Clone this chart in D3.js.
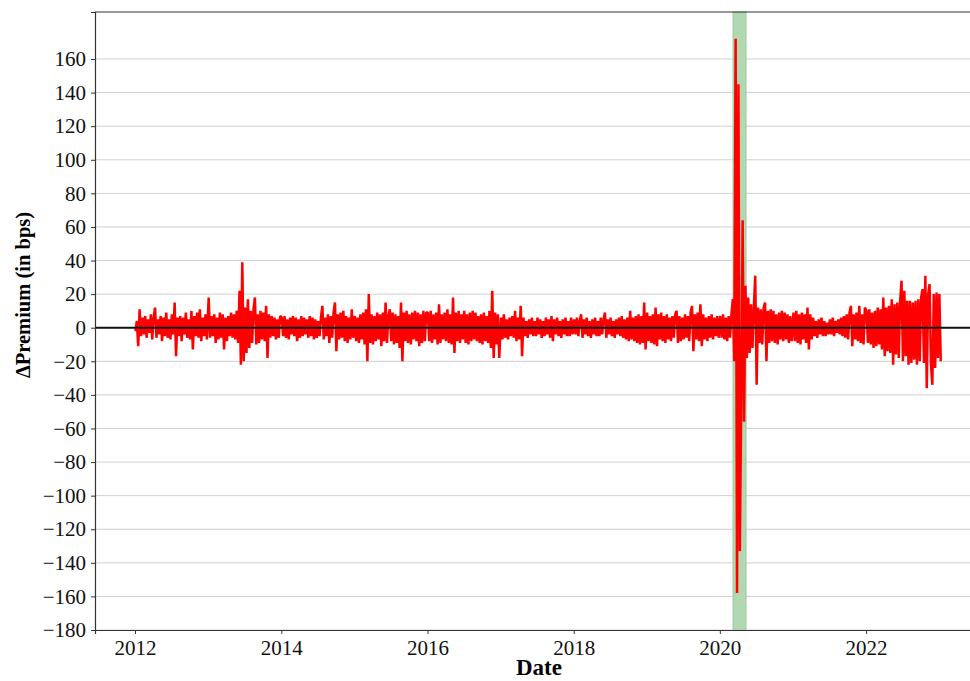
<!DOCTYPE html>
<html>
<head>
<meta charset="utf-8">
<script src="https://cdn.jsdelivr.net/npm/d3@7"></script>
<style>
  html, body { margin: 0; padding: 0; background: #fff; }
  svg { display: block; }
</style>
</head>
<body>
<div id="chart"></div>
<script>
// weekly samples of the premium change (bps), one array per year
const v2012 = [-2, 4, -11, 11, -5, 6, -4, 7, -6, 5, -3, 8, -7, 6, 12, -6, 5, -4, 7, -8, 6, -5, 9, -6, 5, -7, 8, -4, 15, -17, 6, -5, 7, -8, 6, -4, 9, -6, 5, -7, 10, -13, 7, -5, 9, -6, 11, -8, 6, -5, 8, -7];
const v2013 = [18, -6, 7, -5, 8, -9, 6, -7, 9, -6, 8, -13, 6, -8, 7, -5, 9, -6, 8, -7, 10, -9, 22, -22, 39, -20, 12, -15, 17, -12, 10, -9, 11, 18, -10, 8, -9, 10, -7, 9, -8, 13, -18, 8, -6, 7, -5, 6, -7, 5, -6, 7];
const v2014 = [6, -5, 7, -6, 5, -7, 6, -4, 7, -5, 6, -8, 5, -6, 7, -5, 6, -4, 5, -6, 7, -5, 6, -7, 5, -6, 4, -5, 6, 13, -7, 6, -5, 8, -9, 7, -6, 9, 15, -14, 8, -7, 9, -6, 10, -8, 7, -9, 6, -7, 11, -6];
const v2015 = [7, -8, 6, -9, 8, -7, 9, -10, 11, -20, 20, -9, 8, -10, 7, -8, 9, -7, 8, -11, 9, -8, 15, -9, 7, 11, -8, 9, -10, 8, -9, 7, -12, 15, -20, 9, -8, 10, -9, 8, -10, 9, -7, 10, -8, 9, -11, 8, -9, 10, -8, 9];
const v2016 = [9, -8, 10, -9, 8, -7, 9, -10, 14, -9, 8, -7, 9, -8, 11, -9, 8, -10, 18, -15, 9, -8, 10, -9, 8, -7, 10, -9, 8, -10, 9, -8, 10, -7, 9, -8, 7, -9, 8, -10, 9, -8, 7, -9, 10, -12, 22, -18, 9, -10, 8, -18];
const v2017 = [6, -7, 8, -6, 5, -7, 6, -5, 7, -6, 10, -8, 6, -7, 13, -17, 6, -5, 4, -6, 5, -4, 6, -5, 4, -5, 6, -4, 5, -6, 4, -5, 6, -4, 5, -6, 7, -8, 5, -4, 6, -5, 4, -6, 5, -4, 6, -5, 4, -5, 6, -4];
const v2018 = [5, -4, 6, -5, 4, 8, -6, 5, -4, 6, -5, 4, -6, 5, -4, 6, -5, 4, -5, 6, -4, 5, 9, -6, 5, -4, 6, -5, 4, -6, 5, -4, 6, -5, 7, -6, 5, -7, 6, -8, 10, -7, 6, -8, 7, -9, 8, -10, 7, -9, 15, -13];
const v2019 = [9, -8, 7, -9, 8, -10, 12, -11, 8, -7, 9, -8, 7, -9, 8, -7, 6, -8, 7, -6, 8, 10, -9, 7, -8, 6, -7, 8, -6, 7, -8, 9, 13, -14, 8, -7, 9, -8, 14, -11, 8, -7, 6, -8, 7, -6, 8, -7, 6, -5, 7, -6];
const v2020 = [7, -6, 8, -7, 6, -8, 7, -6, 8, 17, -20, 172, -158, 145, -133, -43, 64, -56, 25, -18, 18, -15, 14, -12, 12, 31, -34, 12, -9, 11, -10, 12, 15, -20, 10, -9, 11, -8, 10, -9, 8, -10, 9, -7, 10, -8, 9, -7, 8, -9, 7, -8];
const v2021 = [9, -8, 10, -9, 8, -10, 9, -7, 8, -9, 12, -13, 8, -7, 6, -5, 4, -6, 5, -4, 6, -5, 4, -5, 3, -4, 5, -4, 6, -5, 4, -3, 5, -4, 6, -5, 7, -6, 8, -7, 9, 13, -11, 8, -7, 9, -8, 13, -9, 8, -10, 12];
const v2022 = [10, -9, 11, -10, 9, -12, 10, -11, 12, -10, 11, -13, 18, -17, 12, -14, 13, -15, 17, -22, 14, -16, 15, -18, 16, 28, -20, 22, -17, 16, -22, 16, -21, 15, -19, 16, -22, 17, -20, 18, 23, -21, 31, -36, 20, 26, -22, -34, 20, -24, 21, -18, 20, -20];

const yearValues = [
  [2012, v2012], [2013, v2013], [2014, v2014], [2015, v2015], [2016, v2016], [2017, v2017],
  [2018, v2018], [2019, v2019], [2020, v2020], [2021, v2021], [2022, v2022]
];

const yTicks = [-180, -160, -140, -120, -100, -80, -60, -40, -20, 0, 20, 40, 60, 80, 100, 120, 140, 160];
const xTickYears = [2012, 2014, 2016, 2018, 2020, 2022];
const crisisBand = [new Date(2020, 2, 7), new Date(2020, 4, 11)];
const xDomain = [new Date(2011, 5, 15), new Date(2023, 7, 8)];
const yDomain = [-180, 188];

const width = 970, height = 681;
const margin = { t: 12, r: -13, b: 51, l: 95 };
const serif = "'Times New Roman', 'Liberation Serif', serif";

// flatten yearly arrays into weekly points
const data = [];
yearValues.forEach(([yr, vals]) => {
  const start = new Date(yr, 0, 3);
  vals.forEach((v, i) => data.push({ date: d3.timeDay.offset(start, i * 7), value: v }));
});

const svg = d3.select("#chart").append("svg")
  .attr("width", width)
  .attr("height", height)
  .style("font-family", serif);

const x = d3.scaleTime().domain(xDomain).range([margin.l, width - margin.r]);
const y = d3.scaleLinear().domain(yDomain).range([height - margin.b, margin.t]);

// grid
svg.append("g")
  .selectAll("line")
  .data(yTicks)
  .join("line")
  .attr("x1", margin.l).attr("x2", width - margin.r)
  .attr("y1", d => y(d)).attr("y2", d => y(d))
  .attr("stroke", "#d0d0d0")
  .attr("stroke-width", 1);

// shaded covid window
svg.append("rect")
  .attr("x", x(crisisBand[0]))
  .attr("y", margin.t)
  .attr("width", x(crisisBand[1]) - x(crisisBand[0]))
  .attr("height", y(yDomain[0]) - margin.t)
  .attr("fill", "#b2d8b2")
  .attr("stroke", "#9ccc9c")
  .attr("stroke-width", 1);

const line = d3.line()
  .x(d => x(d.date))
  .y(d => y(d.value));

svg.append("path")
  .datum(data)
  .attr("d", line)
  .attr("fill", "none")
  .attr("stroke", "#ff0000")
  .attr("stroke-width", 2.5)
  .attr("stroke-linejoin", "bevel");

// zero line
svg.append("line")
  .attr("x1", margin.l).attr("x2", width - margin.r)
  .attr("y1", y(0)).attr("y2", y(0))
  .attr("stroke", "#111")
  .attr("stroke-width", 2);

// axes
const ax = d3.axisBottom(x)
  .tickValues(xTickYears.map(yr => new Date(yr, 0, 1)))
  .tickFormat(d3.timeFormat("%Y"))
  .tickSizeOuter(0)
  .tickSize(4)
  .tickPadding(5);
const ay = d3.axisLeft(y)
  .tickValues(yTicks)
  .tickSizeOuter(0)
  .tickSize(4)
  .tickPadding(5);

const gx = svg.append("g")
  .attr("transform", `translate(0,${y(yDomain[0])})`)
  .call(ax);
const gy = svg.append("g")
  .attr("transform", `translate(${margin.l},0)`)
  .call(ay);

[gx, gy].forEach(g => {
  g.attr("font-family", null).attr("font-size", null);
  g.selectAll("text").style("font-family", serif).style("font-size", "21px").attr("fill", "#111");
  g.selectAll(".tick line").attr("stroke", "#333").attr("stroke-width", 1);
  g.select(".domain").attr("stroke", "#333").attr("stroke-width", 1.2);
});
gx.selectAll("text").attr("dy", "0.78em");

// top spine
svg.append("line")
  .attr("x1", margin.l).attr("x2", width - margin.r)
  .attr("y1", margin.t).attr("y2", margin.t)
  .attr("stroke", "#333").attr("stroke-width", 1.2);

// labels
svg.append("text")
  .attr("x", (margin.l + width - margin.r) / 2)
  .attr("y", 675)
  .attr("text-anchor", "middle")
  .style("font-size", "23px")
  .style("font-weight", "bold")
  .text("Date");

svg.append("text")
  .attr("transform", "translate(30,295) rotate(-90)")
  .attr("text-anchor", "middle")
  .style("font-size", "20.5px")
  .style("font-weight", "bold")
  .text("ΔPremium (in bps)");
</script>
</body>
</html>
